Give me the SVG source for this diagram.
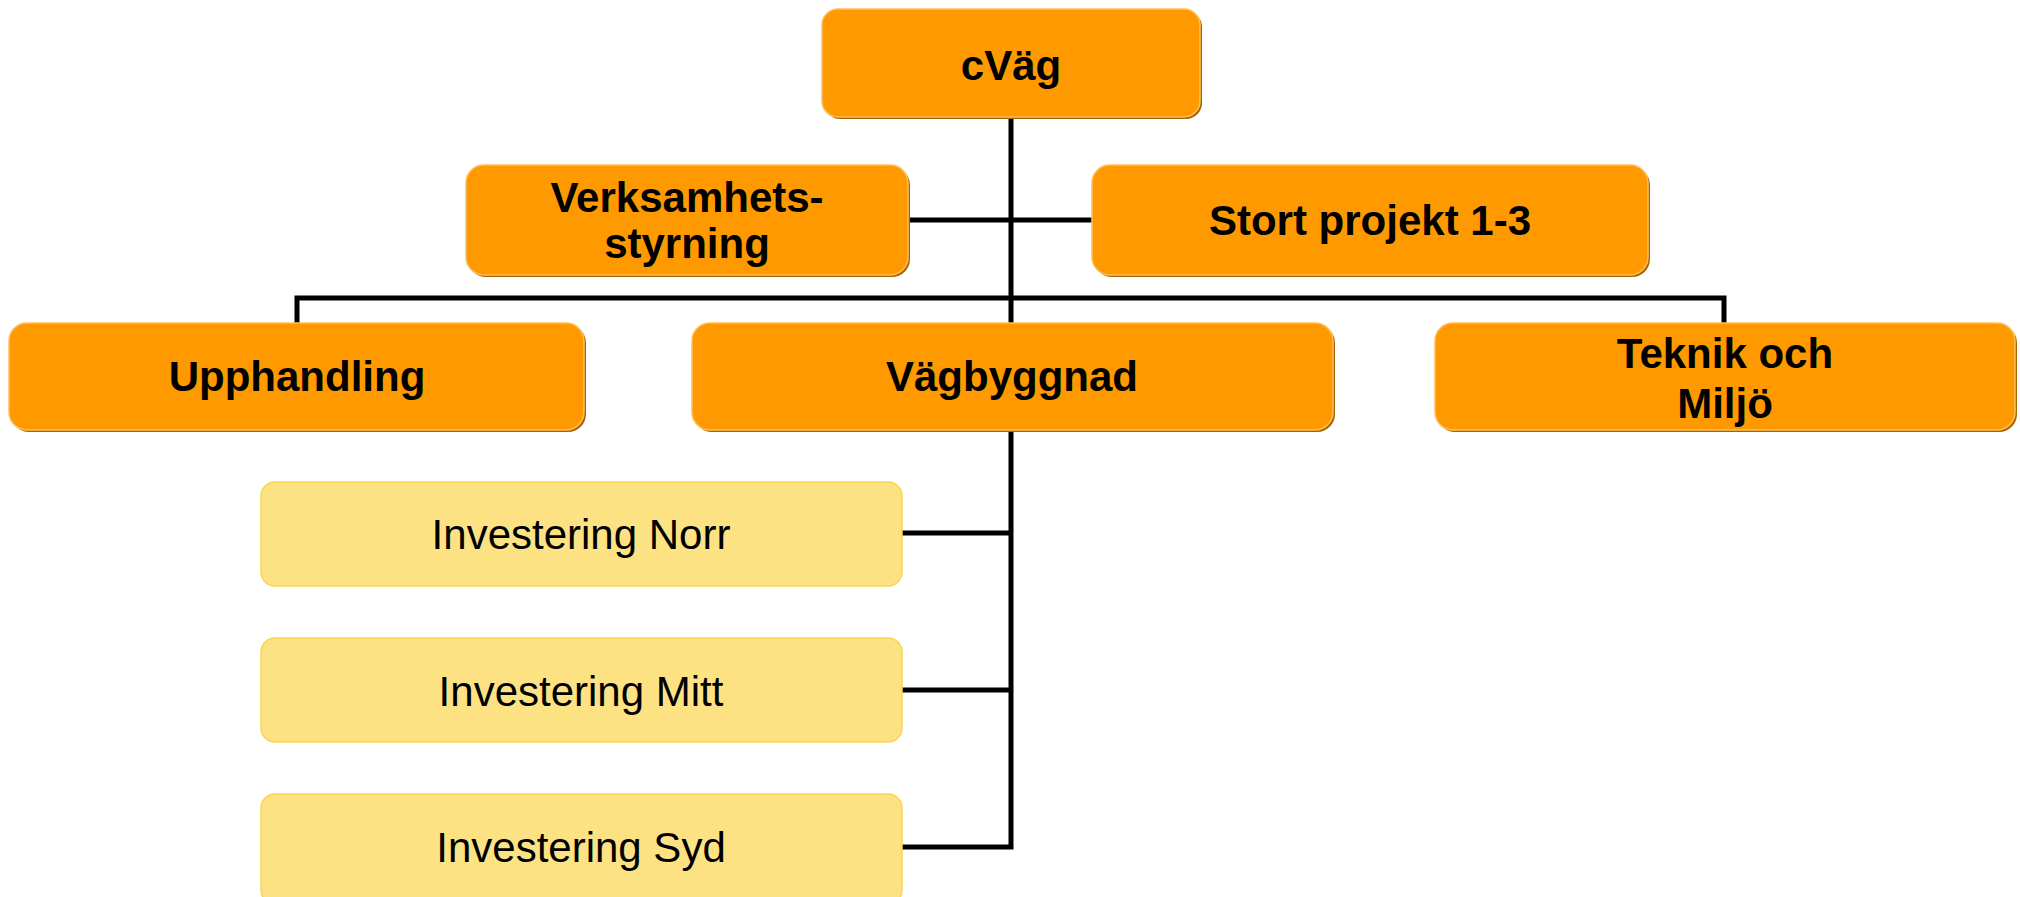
<svg xmlns="http://www.w3.org/2000/svg" width="2020" height="897" viewBox="0 0 2020 897">
<style>
.sh{fill:#A86400}
.ob{fill:#FF9900;stroke:#FFBE5C;stroke-width:1.5}
.yb{fill:#FDE283;stroke:#F8D555;stroke-width:1.5}
.bt{font-family:"Liberation Sans",Arial,sans-serif;font-weight:bold;font-size:42px;fill:#000;text-anchor:middle}
.rt{font-family:"Liberation Sans",Arial,sans-serif;font-size:42px;fill:#000;text-anchor:middle}
.cn{fill:none;stroke:#000;stroke-width:5}
</style>
<rect width="2020" height="897" fill="#fff"/>
<g id="connectors">
<path class="cn" d="M1011 117 V323"/>
<path class="cn" d="M908 220 H1092"/>
<path class="cn" d="M297 323 V298 H1724 V323"/>
<path class="cn" d="M1011 430 V847 H902"/>
<path class="cn" d="M902 533 H1011"/>
<path class="cn" d="M902 690 H1011"/>
</g>
<g id="cvag">
<rect class="sh" x="824" y="11" width="378" height="108" rx="16"/>
<rect class="ob" x="822" y="9" width="378" height="108" rx="16"/>
<text class="bt" x="1011" y="80">cVäg</text>
</g>
<g id="verksamhetsstyrning">
<rect class="sh" x="468" y="167" width="442" height="110" rx="18"/>
<rect class="ob" x="466" y="165" width="442" height="110" rx="18"/>
<text class="bt" x="687" y="212">Verksamhets-</text>
<text class="bt" x="687" y="258">styrning</text>
</g>
<g id="stort-projekt">
<rect class="sh" x="1094" y="167" width="556" height="110" rx="18"/>
<rect class="ob" x="1092" y="165" width="556" height="110" rx="18"/>
<text class="bt" x="1370" y="235">Stort projekt 1-3</text>
</g>
<g id="upphandling">
<rect class="sh" x="11" y="325" width="575" height="107" rx="18"/>
<rect class="ob" x="9" y="323" width="575" height="107" rx="18"/>
<text class="bt" x="297" y="391">Upphandling</text>
</g>
<g id="vagbyggnad">
<rect class="sh" x="694" y="325" width="641" height="107" rx="18"/>
<rect class="ob" x="692" y="323" width="641" height="107" rx="18"/>
<text class="bt" x="1012" y="391">Vägbyggnad</text>
</g>
<g id="teknik-och-miljo">
<rect class="sh" x="1437" y="325" width="580" height="107" rx="18"/>
<rect class="ob" x="1435" y="323" width="580" height="107" rx="18"/>
<text class="bt" x="1725" y="368">Teknik och</text>
<text class="bt" x="1725" y="418">Miljö</text>
</g>
<g id="investering-norr">
<rect class="yb" x="261" y="482" width="641" height="104" rx="14"/>
<text class="rt" x="581" y="549">Investering Norr</text>
</g>
<g id="investering-mitt">
<rect class="yb" x="261" y="638" width="641" height="104" rx="14"/>
<text class="rt" x="581" y="706">Investering Mitt</text>
</g>
<g id="investering-syd">
<rect class="yb" x="261" y="794" width="641" height="110" rx="14"/>
<text class="rt" x="581" y="862">Investering Syd</text>
</g>
</svg>
